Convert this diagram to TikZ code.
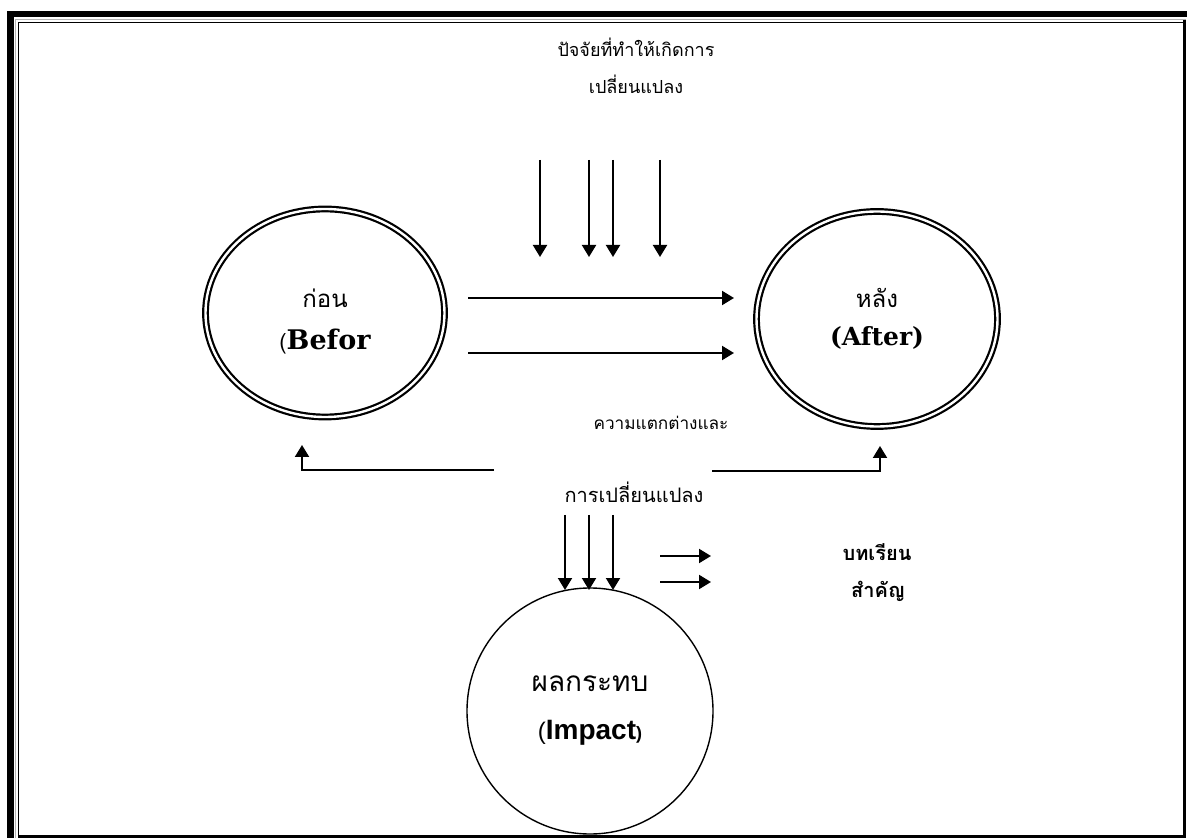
\documentclass[tikz,border=0pt]{standalone}
\usepackage{fontspec}
\usetikzlibrary{arrows.meta,shapes.geometric}
\newfontfamily\thaifont[Script=Thai]{Loma}
\newfontfamily\slabfont{DejaVu Serif}
\setsansfont{Liberation Sans}

\tikzstyle{stage} = [%
	ellipse,
	draw=black,
	inner sep=0pt,
	align=center,
	line width=1.1pt,
	double,
	double distance=1.2pt
]
\tikzstyle{stage before} = [%
	stage,
	minimum width=119.5pt,
	minimum height=104pt
]
\tikzstyle{stage after} = [%
	stage,
	minimum width=120.5pt,
	minimum height=107.5pt
]
\tikzstyle{stage impact} = [%
	ellipse,
	draw=black,
	inner sep=0pt,
	align=center,
	line width=0.7pt,
	minimum width=123pt,
	minimum height=123pt
]
\tikzstyle{flow} = [%
	-{Triangle[length=6pt,width=7pt]},
	line width=1pt
]
\tikzstyle{caption} = [%
	inner sep=0pt,
	font=\thaifont\fontsize{9}{11}\selectfont
]
\tikzstyle{caption bold} = [%
	caption,
	font=\thaifont\bfseries\fontsize{10}{12}\selectfont
]

\begin{document}
\begin{tikzpicture}[x=0.5pt, y=-0.5pt]

\useasboundingbox (0,0) rectangle (1187,838);

% page frame
\fill[black] (7,11) rectangle (1187,17.5);
\fill[black] (7,11) rectangle (14,838);
\draw[gray!60, line width=0.6pt] (15.8,838) -- (15.8,19.8) -- (1186,19.8);
\draw[line width=0.8pt] (18.6,836) -- (18.6,22.6) -- (1183,22.6);
\draw[line width=1.5pt] (1184,20) -- (1184,838);
\draw[line width=1.5pt] (18,836.5) -- (1185,836.5);

% the three stages
\node[stage before] (before) at (325,313) {%
	\rule{0pt}{18pt}{\thaifont\fontsize{12}{14}\selectfont ก่อน}\\[9pt]
	{\thaifont\fontsize{11}{12}\selectfont(}{\slabfont\bfseries\fontsize{13.5}{16}\selectfont Befor}
};
\node[stage after] (after) at (877,319) {%
	{\thaifont\fontsize{12}{14}\selectfont หลัง}\\[7pt]
	{\slabfont\bfseries\fontsize{12.5}{16}\selectfont (After)}
};
\node[stage impact] (impact) at (590,711) {%
	{\thaifont\fontsize{14}{16}\selectfont ผลกระทบ}\\[12pt]
	{\sffamily\bfseries\fontsize{14}{16}\selectfont {\fontsize{12}{14}\mdseries(}Impact{\fontsize{9}{10}\selectfont)}}
};

% factors of change
\node[caption] (factors) at (636,47) {ปัจจัยที่ทำให้เกิดการ};
\node[caption] (factors2) at (636,84) {เปลี่ยนแปลง};
\foreach \x [count=\i] in {540,589,613,660} {
	\coordinate (f\i top) at (\x,160);
	\coordinate (f\i tip) at (\x,257);
	\draw[flow] (f\i top) -- (f\i tip);
}

% before -> after
\coordinate (go1 start) at (468,298);
\coordinate (go1 end) at (734,298);
\coordinate (go2 start) at (468,353);
\coordinate (go2 end) at (734,353);
\draw[flow] (go1 start) -- (go1 end);
\draw[flow] (go2 start) -- (go2 end);

% differences and change
\node[caption, font=\thaifont\fontsize{8.6}{11}\selectfont] (diff) at (661,423) {ความแตกต่างและ};
\node[caption, font=\thaifont\fontsize{10}{12}\selectfont] (diff2) at (634,492) {การเปลี่ยนแปลง};
\coordinate (back left) at (494,470);
\coordinate (back right) at (712,471);
\coordinate (before foot) at (302,445);
\coordinate (after foot) at (880,446);
\draw[flow] (back left) -| (before foot);
\draw[flow] (back right) -| (after foot);

% towards impact and lessons
\foreach \x [count=\i] in {565,589,613} {
	\coordinate (i\i top) at (\x,515);
	\coordinate (i\i tip) at (\x,590);
	\draw[flow] (i\i top) -- (i\i tip);
}
\foreach \y [count=\i] in {556,582} {
	\coordinate (l\i start) at (660,\y);
	\coordinate (l\i end) at (711,\y);
	\draw[flow] (l\i start) -- (l\i end);
}
\node[caption bold] (lesson) at (877,552) {บทเรียน};
\node[caption bold] (lesson2) at (878,591) {สำคัญ};

\end{tikzpicture}
\end{document}
